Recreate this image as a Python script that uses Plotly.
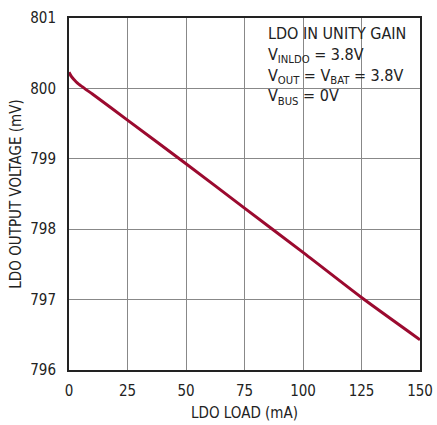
import plotly.graph_objects as go

load_ma = [0, 1, 2, 3, 4, 5, 7, 10, 25, 50, 75, 100, 125, 150]
vout_mv = [800.23, 800.17, 800.13, 800.095, 800.065, 800.04, 799.99, 799.92, 799.55, 798.93, 798.30, 797.67, 797.03, 796.43]

x_ticks = [0, 25, 50, 75, 100, 125, 150]
y_ticks = [796, 797, 798, 799, 800, 801]

FONT = "DejaVu Sans Condensed, Liberation Sans Narrow, Roboto"

fig = go.Figure()
fig.add_trace(go.Scatter(x=load_ma, y=vout_mv, mode="lines",
                         line=dict(color="#9b0a2f", width=3, shape="spline", smoothing=0.6),
                         showlegend=False))

fig.add_shape(type="rect", xref="paper", yref="paper", x0=0.524, x1=0.986, y0=0.739, y1=0.997,
              fillcolor="white", line=dict(width=0), layer="between")

fig.add_annotation(
    xref="paper", yref="paper", x=0.556, y=0.995, xanchor="left", yanchor="top",
    align="left", showarrow=False, borderpad=3,
    text="LDO IN UNITY GAIN<br>V<sub>INLDO</sub> = 3.8V<br>V<sub>OUT</sub> = V<sub>BAT</sub> = 3.8V<br>V<sub>BUS</sub> = 0V",
    font=dict(family=FONT, size=16, color="#222"),
)

fig.update_layout(
    width=437, height=425,
    margin=dict(l=69, r=17, t=18, b=55, autoexpand=False),
    plot_bgcolor="white", paper_bgcolor="white",
    font=dict(family=FONT, size=15, color="#222"),
    xaxis=dict(range=[0, 150], tickvals=x_ticks, showgrid=True, gridcolor="#888", gridwidth=1,
               showline=True, linecolor="#222", linewidth=2, mirror=True, ticks="",
               automargin=False, ticklabelstandoff=6,
               title=dict(text="LDO LOAD (mA)", font=dict(size=15), standoff=8), zeroline=False),
    yaxis=dict(range=[796, 801], tickvals=y_ticks, showgrid=True, gridcolor="#888", gridwidth=1,
               showline=True, linecolor="#222", linewidth=2, mirror=True, ticks="",
               automargin=False, ticklabelstandoff=8,
               title=dict(text="LDO OUTPUT VOLTAGE (mV)", font=dict(size=15), standoff=5), zeroline=False),
)

fig.write_html("out.html", config={"displayModeBar": False},
               post_script="document.body.style.margin='0';")
